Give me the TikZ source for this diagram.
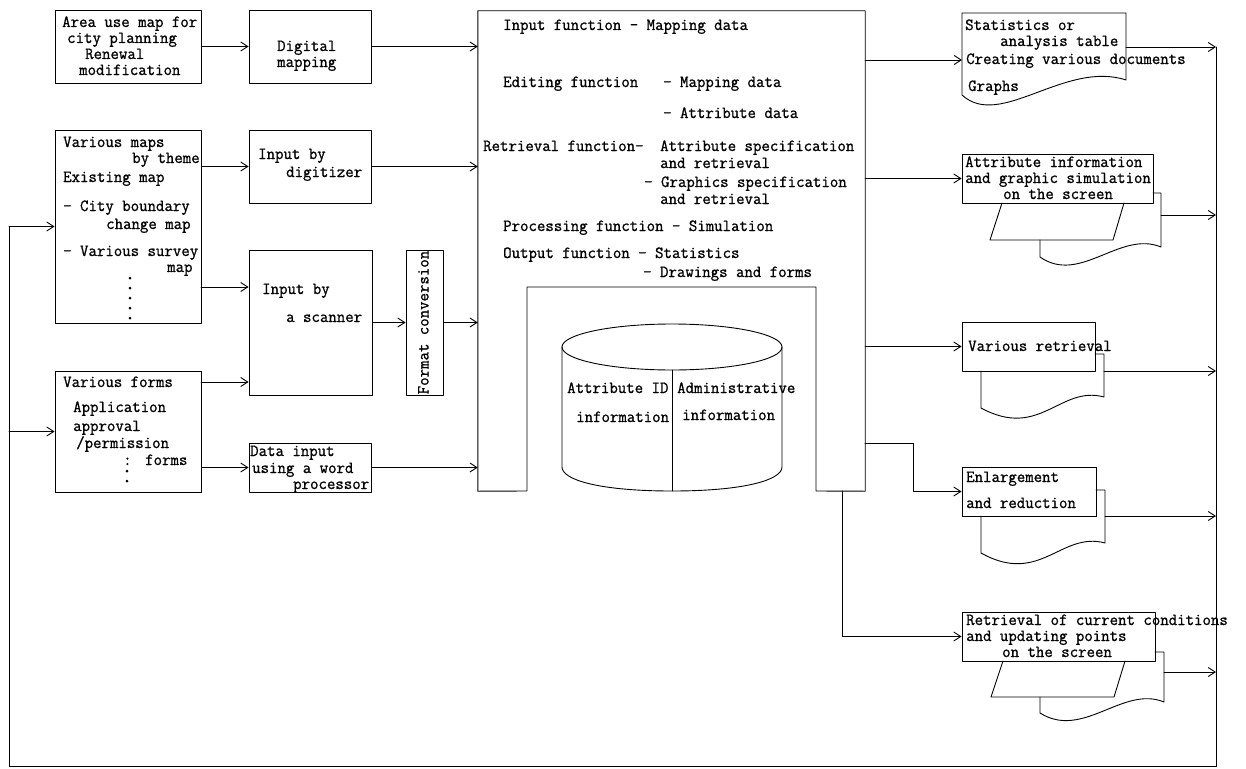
\documentclass[tikz,border=0pt]{standalone}
\usepackage{fontspec}
\usetikzlibrary{arrows.meta}
\newfontfamily\monofont[FakeStretch=0.964,FakeBold=1]{Latin Modern Mono}
\newcommand\gisfont{\monofont\fontsize{17}{16}\selectfont}
\tikzset{
  box/.style={draw, line width=0.9pt, inner sep=0pt},
  txt/.style={inner sep=0pt, anchor=west, text height=11pt, text depth=3pt, font=\gisfont},
  arr/.style={line width=0.9pt, -{Straight Barb[length=7pt,width=9pt]}},
  ln/.style={line width=0.9pt},
}
\begin{document}
\begin{tikzpicture}[x=1pt,y=-1pt,line cap=round,line join=round]
  \useasboundingbox (0,0) rectangle (1246,768);

  % sources
  \node[box, minimum width=146pt, minimum height=73pt] (area) at (128,46.5) {};
  \node[box, minimum width=146pt, minimum height=193pt] (maps) at (128,226.5) {};
  \node[box, minimum width=146pt, minimum height=121pt] (forms) at (128,431.5) {};
  \foreach \x/\y/\lbl [count=\i] in {62/23/Area use map for, 67/39/city planning, 85/55/Renewal, 79/71/modification}
    \node[txt] (ar\i) at (\x,\y) {\lbl};
  \foreach \x/\y/\lbl [count=\i] in {63/143/Various maps, 132/159/by theme, 63/178/Existing map, 63/207/- City boundary, 106/225/change map, 63/252/- Various survey, 167/268/map}
    \node[txt] (mp\i) at (\x,\y) {\lbl};
  \foreach \y in {278,288,298,308,318}
    \fill (130,\y) circle (1.5);
  \foreach \x/\y/\lbl [count=\i] in {63/383/Various forms, 73/408/Application, 73/427/approval}
    \node[txt] (fo\i) at (\x,\y) {\lbl};
  \node[txt] (fo4) at (76,444) {/permission};
  \node[txt] (fo5) at (123,461) {:};
  \node[txt] (fo6) at (145,461) {forms};
  \fill (127,471) circle (1.5);
  \fill (127,481) circle (1.5);

  % input methods
  \node[box, minimum width=122pt, minimum height=73pt] (dig) at (310,46.5) {};
  \node[box, minimum width=122pt, minimum height=73pt] (dgz) at (310,166.5) {};
  \node[box, minimum width=123pt, minimum height=145pt] (scan) at (310.5,322.5) {};
  \node[box, minimum width=122pt, minimum height=49pt] (data) at (310,467.5) {};
  \node[box, minimum width=37pt, minimum height=145pt] (fmt) at (424.5,322.5) {};
  \node[txt, anchor=center, rotate=90] (fmtT) at (fmt.center) {Format conversion};
  \foreach \x/\y/\lbl [count=\i] in {277/47/Digital, 277/63/mapping}
    \node[txt] (dg\i) at (\x,\y) {\lbl};
  \foreach \x/\y/\lbl [count=\i] in {258/155/Input by, 286/173/digitizer}
    \node[txt] (dz\i) at (\x,\y) {\lbl};
  \foreach \x/\y/\lbl [count=\i] in {262/290/Input by, 286/318/a scanner}
    \node[txt] (sc\i) at (\x,\y) {\lbl};
  \foreach \x/\y/\lbl [count=\i] in {250/452/Data input, 252/469/using a word, 293/485/processor}
    \node[txt] (dt\i) at (\x,\y) {\lbl};

  % GIS functions and database
  \node[minimum width=387pt, minimum height=480pt, inner sep=0pt] (gis) at (671.5,251) {};
  \draw[ln] (gis.south west) -- (gis.north west) -- (gis.north east) -- (gis.south east)
    -- (816,491) -- (816,287) -- (527,287) -- (527,491) -- cycle;
  \foreach \x/\y/\lbl [count=\i] in {503/26/Input function - Mapping data, 503/83/Editing function, 663/83/- Mapping data, 663/114/- Attribute data, 483/147/Retrieval function-, 660/147/Attribute specification, 660/164/and retrieval, 644/183/- Graphics specification, 660/200/and retrieval, 503/227/Processing function - Simulation, 503/254/Output function - Statistics, 643/273/- Drawings and forms}
    \node[txt] (fn\i) at (\x,\y) {\lbl};
  \draw[ln] (672,347) ellipse [x radius=110, y radius=23];
  \draw[ln] (562,347) -- (562,467) .. controls (562,480) and (600,491) .. (672,491)
    .. controls (744,491) and (782,480) .. (782,467) -- (782,347);
  \draw[ln] (672,370) -- (672,491);
  \foreach \x/\y/\lbl [count=\i] in {567/389/Attribute ID, 576/418/information, 677/389/Administrative, 682/416/information}
    \node[txt] (db\i) at (\x,\y) {\lbl};

  % outputs
  \draw[ln] (1126,80) .. controls (1065,60) and (1000,130) .. (962,95) -- (962,13) -- (1126,13) -- cycle;
  \foreach \x/\y/\lbl [count=\i] in {965/26/Statistics or, 1000/42/analysis table, 966/60/Creating various documents, 968/87/Graphs}
    \node[txt] (st\i) at (\x,\y) {\lbl};

  \node[box, minimum width=191pt, minimum height=49pt] (scr) at (1057.5,178.5) {};
  \draw[ln] (1002,203) -- (990,240) -- (1113,240) -- (1124,203);
  \draw[ln] (1153,193) -- (1161,193) -- (1161,247) .. controls (1120,230) and (1080,285) .. (1040,257) -- (1040,240);
  \foreach \x/\y/\lbl [count=\i] in {965/163/Attribute information, 965/179/and graphic simulation, 1003/195/on the screen}
    \node[txt] (sr\i) at (\x,\y) {\lbl};

  \node[box, minimum width=133pt, minimum height=49pt] (retr) at (1028.5,346.5) {};
  \draw[ln] (1095,354) -- (1104,354) -- (1104,397) .. controls (1060,385) and (1040,440) .. (981,408) -- (981,371);
  \node[txt] (rt1) at (968,347) {Various retrieval};

  \node[box, minimum width=134pt, minimum height=49pt] (enl) at (1029,491.5) {};
  \draw[ln] (1096,490) -- (1105,490) -- (1105,543) .. controls (1061,531) and (1040,586) .. (981,553) -- (981,516);
  \foreach \x/\y/\lbl [count=\i] in {966/478/Enlargement, 966/504/and reduction}
    \node[txt] (en\i) at (\x,\y) {\lbl};

  \node[box, minimum width=193pt, minimum height=49pt] (cur) at (1058.5,636.5) {};
  \draw[ln] (1003,661) -- (991,697) -- (1114,697) -- (1125,661);
  \draw[ln] (1155,652) -- (1164,652) -- (1164,702) .. controls (1123,685) and (1083,740) .. (1040,713) -- (1040,697);
  \foreach \x/\y/\lbl [count=\i] in {966/621/Retrieval of current conditions, 966/637/and updating points, 1002/653/on the screen}
    \node[txt] (cu\i) at (\x,\y) {\lbl};

  % connectors
  \coordinate (mapsOut) at (201,287);
  \coordinate (formsOut) at (201,382);
  \draw[arr] (area) -- (dig);
  \draw[arr] (maps.east |- dgz) -- (dgz);
  \draw[arr] (mapsOut) -- (mapsOut -| scan.west);
  \draw[arr] (formsOut) -- (formsOut -| scan.west);
  \draw[arr] (forms.east |- data) -- (data);
  \draw[arr] (scan) -- (fmt);
  \draw[arr] (dig) -- (dig -| gis.west);
  \draw[arr] (dgz) -- (dgz -| gis.west);
  \draw[arr] (fmt) -- (fmt -| gis.west);
  \draw[arr] (data) -- (data -| gis.west);

  \coordinate (statIn) at (962,60);
  \coordinate (enlOut) at (865,443);
  \coordinate (curOut) at (842,491);
  \draw[arr] (statIn -| gis.east) -- (statIn);
  \draw[arr] (gis.east |- scr) -- (scr);
  \draw[arr] (gis.east |- retr) -- (retr);
  \draw[arr] (enlOut) -- ++(48,0) |- (enl);
  \draw[arr] (curOut) |- (cur);

  % feedback loop
  \coordinate (fbTop) at (1216,47);
  \coordinate (fbBot) at (1216,766);
  \coordinate (fbLeft) at (9,766);
  \draw[ln] (fbTop) -- (fbBot) -- (fbLeft) -- (fbLeft |- maps);
  \draw[arr] (fbLeft |- maps) -- (maps);
  \draw[arr] (fbLeft |- forms) -- (forms);
  \coordinate (statOut) at (1126,47);
  \coordinate (scrOut) at (1161,215);
  \coordinate (retrOut) at (1104,371);
  \coordinate (enlBack) at (1105,516);
  \coordinate (curBack) at (1164,672);
  \draw[arr] (statOut) -- (fbTop);
  \draw[arr] (scrOut) -- (scrOut -| fbTop);
  \draw[arr] (retrOut) -- (retrOut -| fbTop);
  \draw[arr] (enlBack) -- (enlBack -| fbTop);
  \draw[arr] (curBack) -- (curBack -| fbTop);
\end{tikzpicture}
\end{document}
